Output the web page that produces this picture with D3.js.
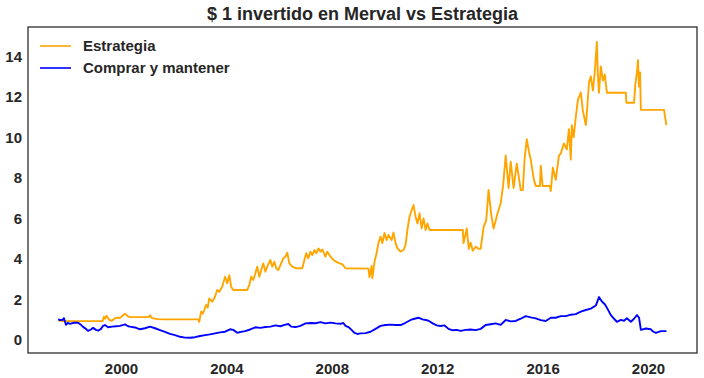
<!DOCTYPE html>
<html>
<head>
<meta charset="utf-8">
<script src="https://cdn.jsdelivr.net/npm/d3@7"></script>
<style>
  html, body { margin: 0; padding: 0; background: #fff; }
  svg { display: block; }
  text { font-family: "Liberation Sans", Arial, sans-serif; font-weight: bold; fill: #262626; }
</style>
</head>
<body>
<svg id="chart" width="704" height="378"></svg>
<script>
// ---- Data (decimal year, value of $1 invested) ----
const titleText = "$ 1 invertido en Merval vs Estrategia";
const seriesNames = ["Estrategia", "Comprar y mantener"];
const seriesColors = ["orange", "blue"];
const xTicks = [2000, 2004, 2008, 2012, 2016, 2020];
const yTicks = [0, 2, 4, 6, 8, 10, 12, 14];

const estrategia = [
  [1997.62,1.00],[1997.68,0.95],[1997.80,0.93],[1999.30,0.93],[1999.35,1.15],[1999.40,1.05],
  [1999.45,1.20],[1999.55,1.00],[1999.65,0.95],[1999.75,1.05],[1999.85,1.10],[1999.95,1.08],
  [2000.05,1.20],[2000.15,1.30],[2000.25,1.18],[2000.35,1.13],[2001.05,1.13],[2001.10,1.22],
  [2001.18,1.08],[2001.40,1.03],[2001.60,1.02],[2002.93,1.02],[2002.97,0.90],[2003.04,1.40],
  [2003.10,1.30],[2003.16,1.48],[2003.23,1.73],[2003.29,1.60],[2003.35,2.05],[2003.46,1.89],
  [2003.54,2.05],[2003.65,2.47],[2003.73,2.38],[2003.84,2.63],[2003.95,3.12],[2004.03,2.80],
  [2004.11,3.20],[2004.18,2.63],[2004.26,2.47],[2004.79,2.47],[2004.87,2.71],[2004.94,3.12],
  [2005.02,2.96],[2005.10,3.29],[2005.17,3.62],[2005.25,3.12],[2005.32,3.45],[2005.40,3.78],
  [2005.48,3.37],[2005.55,3.62],[2005.67,3.95],[2005.74,3.62],[2005.82,3.86],[2005.89,3.54],
  [2005.97,3.45],[2006.05,3.70],[2006.16,4.03],[2006.24,4.11],[2006.31,4.31],[2006.39,3.78],
  [2006.50,3.62],[2006.65,3.54],[2006.88,3.54],[2006.96,3.95],[2007.03,4.28],[2007.11,4.03],
  [2007.19,4.36],[2007.26,4.19],[2007.34,4.44],[2007.41,4.28],[2007.49,4.52],[2007.57,4.36],
  [2007.64,4.47],[2007.76,4.11],[2007.83,4.36],[2007.95,4.11],[2008.06,3.95],[2008.21,3.83],
  [2008.40,3.73],[2008.52,3.54],[2009.39,3.52],[2009.43,3.10],[2009.51,3.65],[2009.54,3.05],
  [2009.62,3.86],[2009.70,4.28],[2009.77,4.78],[2009.85,5.10],[2009.92,4.78],[2010.00,5.28],
  [2010.08,4.93],[2010.15,5.18],[2010.27,4.93],[2010.34,5.30],[2010.42,4.78],[2010.49,4.52],
  [2010.61,4.36],[2010.72,4.44],[2010.80,4.69],[2010.87,5.43],[2010.95,6.08],[2011.03,6.41],
  [2011.10,6.66],[2011.18,6.08],[2011.25,5.75],[2011.33,6.25],[2011.41,5.51],[2011.48,6.00],
  [2011.56,5.43],[2011.63,5.75],[2011.71,5.43],[2012.97,5.43],[2013.00,4.78],[2013.12,5.50],
  [2013.20,4.50],[2013.27,4.80],[2013.35,4.40],[2013.46,4.60],[2013.57,4.50],[2013.65,4.50],
  [2013.76,5.57],[2013.86,5.90],[2013.95,7.40],[2014.05,6.20],[2014.14,5.50],[2014.28,6.20],
  [2014.41,6.75],[2014.50,7.60],[2014.60,9.10],[2014.71,7.50],[2014.79,8.80],[2014.90,7.50],
  [2015.02,8.70],[2015.17,7.40],[2015.25,7.40],[2015.32,9.00],[2015.40,9.90],[2015.48,9.30],
  [2015.55,8.90],[2015.67,7.90],[2015.74,7.60],[2015.90,7.60],[2015.93,8.60],[2016.00,7.60],
  [2016.28,7.60],[2016.31,7.35],[2016.39,8.50],[2016.50,7.90],[2016.62,9.10],[2016.69,9.20],
  [2016.81,9.70],[2016.92,9.40],[2017.00,10.40],[2017.07,8.90],[2017.11,10.60],[2017.18,10.00],
  [2017.26,11.00],[2017.34,11.85],[2017.45,12.20],[2017.53,11.30],[2017.64,10.60],[2017.68,11.20],
  [2017.76,12.70],[2017.83,13.00],[2017.91,12.30],[2017.98,13.20],[2018.06,14.70],[2018.10,13.00],
  [2018.14,12.20],[2018.21,13.50],[2018.29,12.80],[2018.36,13.10],[2018.44,12.20],[2019.16,12.20],
  [2019.18,11.70],[2019.47,11.70],[2019.52,12.60],[2019.58,13.20],[2019.62,13.80],[2019.66,12.50],
  [2019.70,13.20],[2019.73,11.35],[2020.61,11.35],[2020.65,11.00],[2020.70,10.60]
];

const comprar = [
  [1997.62,1.03],[1997.68,0.98],[1997.79,1.00],[1997.83,1.08],[1997.91,0.75],[1997.98,0.85],
  [1998.06,0.80],[1998.21,0.85],[1998.37,0.85],[1998.48,0.75],[1998.56,0.65],[1998.67,0.55],
  [1998.75,0.45],[1998.86,0.52],[1998.94,0.60],[1999.05,0.50],[1999.13,0.46],[1999.24,0.55],
  [1999.32,0.70],[1999.39,0.74],[1999.51,0.63],[1999.66,0.66],[1999.81,0.68],[1999.96,0.70],
  [2000.15,0.77],[2000.27,0.68],[2000.34,0.66],[2000.53,0.62],[2000.72,0.53],[2000.91,0.58],
  [2001.10,0.66],[2001.29,0.58],[2001.48,0.49],[2001.67,0.40],[2001.86,0.30],[2002.05,0.24],
  [2002.24,0.16],[2002.43,0.12],[2002.62,0.11],[2002.81,0.14],[2003.00,0.20],[2003.19,0.24],
  [2003.38,0.28],[2003.57,0.33],[2003.76,0.38],[2003.95,0.41],[2004.14,0.53],[2004.26,0.50],
  [2004.41,0.36],[2004.56,0.40],[2004.71,0.44],[2004.90,0.52],[2005.10,0.63],[2005.29,0.60],
  [2005.48,0.64],[2005.67,0.66],[2005.86,0.72],[2006.05,0.68],[2006.24,0.76],[2006.35,0.79],
  [2006.46,0.66],[2006.62,0.64],[2006.81,0.70],[2007.00,0.82],[2007.19,0.84],[2007.38,0.83],
  [2007.57,0.88],[2007.76,0.82],[2007.95,0.86],[2008.14,0.82],[2008.33,0.80],[2008.44,0.84],
  [2008.52,0.70],[2008.63,0.64],[2008.75,0.50],[2008.86,0.35],[2008.97,0.30],[2009.09,0.33],
  [2009.28,0.34],[2009.47,0.41],[2009.66,0.55],[2009.85,0.70],[2010.04,0.74],[2010.23,0.76],
  [2010.42,0.74],[2010.61,0.74],[2010.80,0.85],[2010.99,0.99],[2011.14,1.05],[2011.29,1.10],
  [2011.44,1.02],[2011.56,0.99],[2011.67,0.95],[2011.83,0.82],[2011.98,0.72],[2012.13,0.69],
  [2012.28,0.72],[2012.43,0.55],[2012.59,0.48],[2012.74,0.50],[2012.89,0.45],[2013.08,0.50],
  [2013.27,0.52],[2013.46,0.49],[2013.65,0.55],[2013.84,0.74],[2014.03,0.78],[2014.22,0.82],
  [2014.41,0.75],[2014.60,0.99],[2014.79,0.92],[2014.98,0.94],[2015.17,1.05],[2015.36,1.18],
  [2015.55,1.12],[2015.74,1.07],[2015.93,0.98],[2016.12,0.94],[2016.31,1.10],[2016.50,1.10],
  [2016.69,1.18],[2016.88,1.18],[2017.07,1.25],[2017.26,1.28],[2017.45,1.40],[2017.64,1.48],
  [2017.83,1.55],[2018.02,1.70],[2018.14,2.12],[2018.25,1.90],[2018.37,1.75],[2018.48,1.50],
  [2018.59,1.23],[2018.71,1.05],[2018.82,0.90],[2018.97,0.99],[2019.09,0.95],[2019.20,1.07],
  [2019.35,0.90],[2019.47,1.05],[2019.58,1.23],[2019.66,1.10],[2019.73,0.50],[2019.92,0.57],
  [2020.11,0.53],[2020.19,0.42],[2020.30,0.35],[2020.49,0.44],[2020.70,0.44]
];

// ---- Layout ----
const svg = d3.select("#chart");
const plot = { left: 28, top: 27, right: 697, bottom: 353 };

const x = d3.scaleLinear().domain([1996.47, 2021.86]).range([plot.left, plot.right]);
const y = d3.scaleLinear().domain([-0.64, 15.44]).range([plot.bottom, plot.top]);

// Title
svg.append("text")
  .attr("x", (plot.left + plot.right) / 2)
  .attr("y", 20)
  .attr("text-anchor", "middle")
  .style("font-size", "18px")
  .text(titleText);

// Axes (no tick marks)
const xAxis = d3.axisBottom(x).tickValues(xTicks).tickFormat(d3.format("d")).tickSize(0).tickPadding(10);
const yAxis = d3.axisLeft(y).tickValues(yTicks).tickFormat(d3.format("d")).tickSize(0).tickPadding(6);

const gx = svg.append("g").attr("transform", `translate(0,${plot.bottom})`).call(xAxis);
const gy = svg.append("g").attr("transform", `translate(${plot.left},0)`).call(yAxis);
[gx, gy].forEach(g => {
  g.select(".domain").remove();
  g.selectAll("text").style("font-size", "15px").style("font-family", '"Liberation Sans", Arial, sans-serif')
    .style("font-weight", "bold").attr("fill", "#262626");
});

// Lines
const line = d3.line().x(d => x(d[0])).y(d => y(d[1]));
const clipId = "plotclip";
svg.append("clipPath").attr("id", clipId).append("rect")
  .attr("x", plot.left).attr("y", plot.top)
  .attr("width", plot.right - plot.left).attr("height", plot.bottom - plot.top);

const gLines = svg.append("g").attr("clip-path", `url(#${clipId})`);
gLines.append("path").datum(estrategia)
  .attr("fill", "none").attr("stroke", seriesColors[0]).attr("stroke-width", 1.9)
  .attr("stroke-linejoin", "round").attr("d", line);
gLines.append("path").datum(comprar)
  .attr("fill", "none").attr("stroke", seriesColors[1]).attr("stroke-width", 1.9)
  .attr("stroke-linejoin", "round").attr("d", line);

// Frame
svg.append("rect")
  .attr("x", plot.left).attr("y", plot.top)
  .attr("width", plot.right - plot.left).attr("height", plot.bottom - plot.top)
  .attr("fill", "none").attr("stroke", "#262626").attr("stroke-width", 1.25);

// Legend
const legend = svg.append("g");
seriesNames.forEach((name, i) => {
  const ly = 46 + i * 22;
  legend.append("line")
    .attr("x1", 40).attr("x2", 71).attr("y1", ly).attr("y2", ly)
    .attr("stroke", seriesColors[i]).attr("stroke-width", 1.6);
  legend.append("text")
    .attr("x", 83).attr("y", ly).attr("dy", "0.36em")
    .style("font-size", "15px")
    .text(name);
});
</script>
</body>
</html>
